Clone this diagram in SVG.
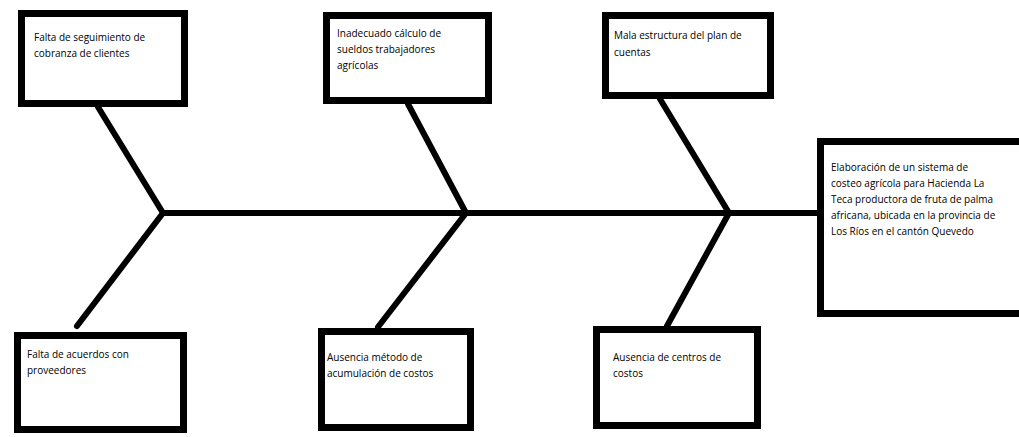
<svg xmlns="http://www.w3.org/2000/svg" width="1019" height="437" viewBox="0 0 1019 437">
<style>
.box{fill:#fff;stroke:#000;stroke-width:7}
.bone{stroke:#000;stroke-width:6;stroke-linecap:round;fill:none}
text{font-family:"Open Sans","Liberation Sans",sans-serif;font-size:10px;fill:#000}
</style>
<rect width="1019" height="437" fill="#fff"/>
<g id="connectors">
<line class="bone" x1="163" y1="213" x2="818" y2="213"/>
<line class="bone" x1="98" y1="107" x2="163" y2="213"/>
<line class="bone" x1="163" y1="213" x2="77" y2="326"/>
<line class="bone" x1="408" y1="104" x2="466" y2="213"/>
<line class="bone" x1="466" y1="213" x2="378" y2="327"/>
<line class="bone" x1="660" y1="99" x2="729" y2="213"/>
<line class="bone" x1="729" y1="213" x2="667" y2="326"/>
</g>
<g id="n1">
<rect class="box" x="21.5" y="13.5" width="163" height="90"/>
<text x="34" y="41">Falta de seguimiento de</text>
<text x="34" y="57">cobranza de clientes</text>
</g>
<g id="n2">
<rect class="box" x="326.5" y="15.5" width="162" height="85"/>
<text x="337" y="37">Inadecuado cálculo de</text>
<text x="337" y="53">sueldos trabajadores</text>
<text x="337" y="69">agrícolas</text>
</g>
<g id="n3">
<rect class="box" x="605.5" y="15.5" width="165" height="80"/>
<text x="614" y="39">Mala estructura del plan de</text>
<text x="614" y="56">cuentas</text>
</g>
<g id="n4">
<rect class="box" x="820.5" y="141.5" width="210" height="172"/>
<text x="831" y="171">Elaboración de un sistema de</text>
<text x="831" y="187">costeo agrícola para Hacienda La</text>
<text x="831" y="203">Teca productora de fruta de palma</text>
<text x="831" y="219">africana, ubicada en la provincia de</text>
<text x="831" y="235">Los Ríos en el cantón Quevedo</text>
</g>
<g id="n5">
<rect class="box" x="17.5" y="335.5" width="166" height="94"/>
<text x="27" y="358">Falta de acuerdos con</text>
<text x="27" y="374">proveedores</text>
</g>
<g id="n6">
<rect class="box" x="321.5" y="331.5" width="149" height="96"/>
<text x="327" y="361">Ausencia método de</text>
<text x="327" y="377">acumulación de costos</text>
</g>
<g id="n7">
<rect class="box" x="596.5" y="329.5" width="161" height="96"/>
<text x="613" y="361">Ausencia de centros de</text>
<text x="613" y="377">costos</text>
</g>
</svg>
